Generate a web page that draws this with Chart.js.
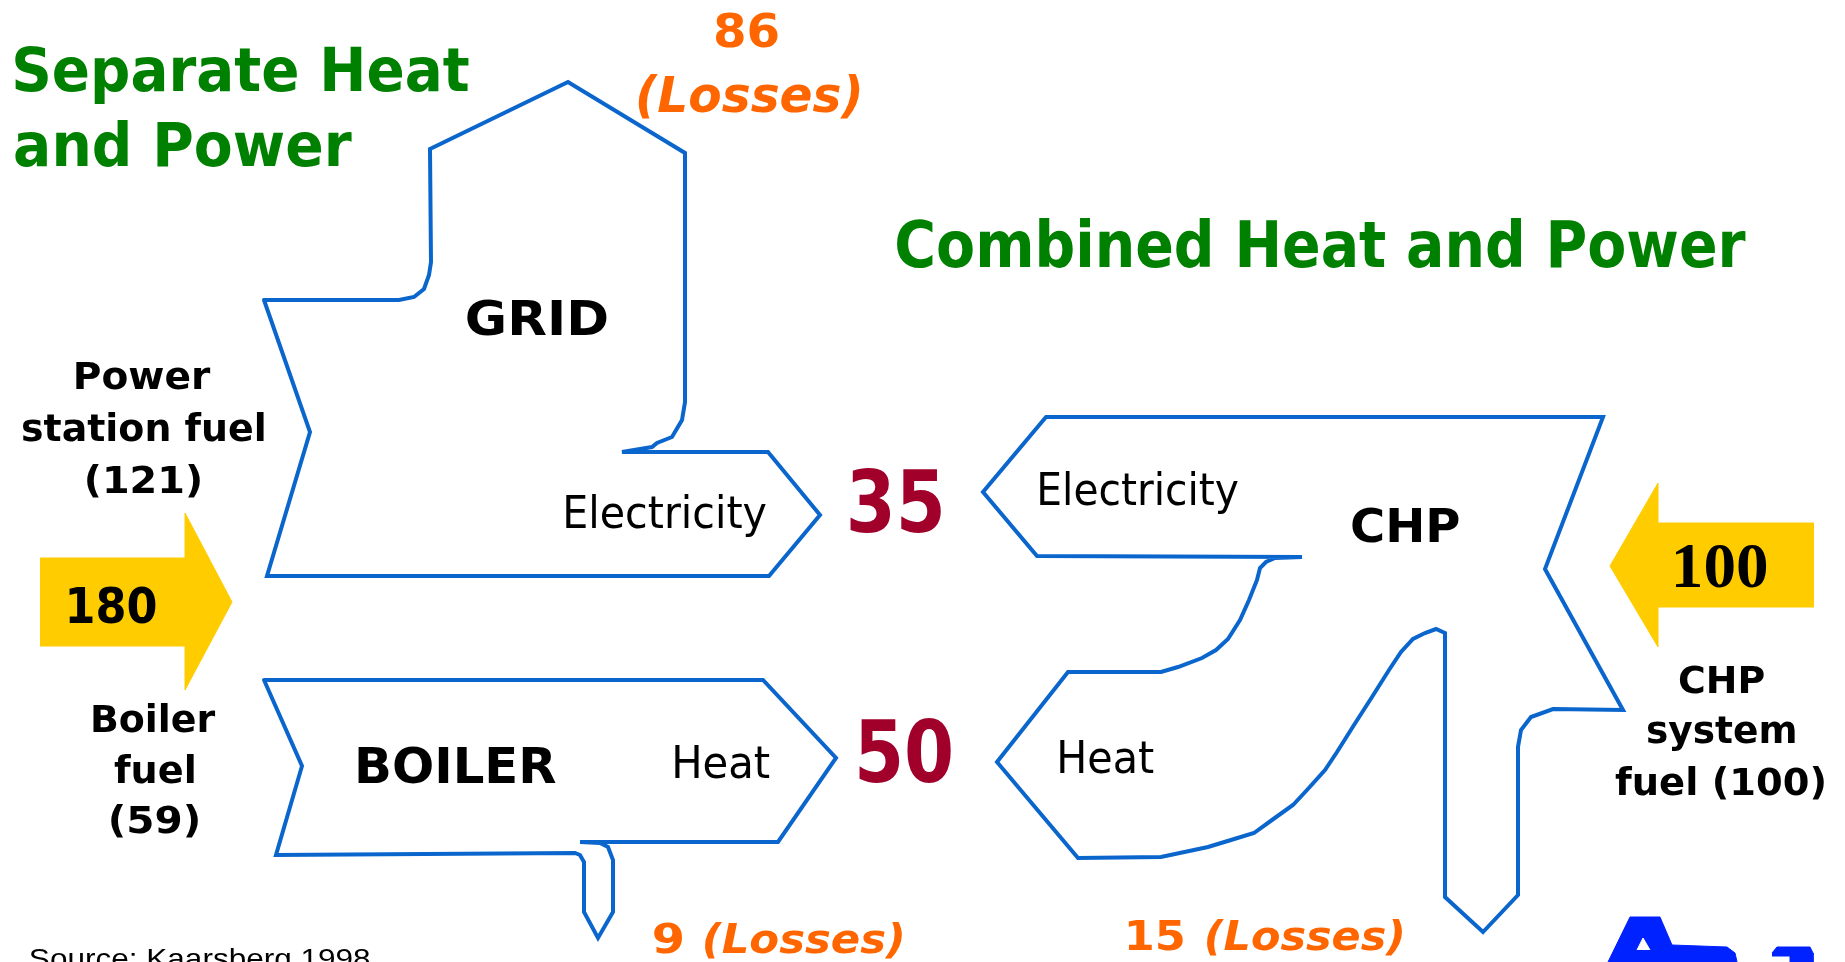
<!DOCTYPE html>
<html>
<head>
<meta charset="utf-8">
<title>Separate vs Combined Heat and Power</title>
<script src="https://cdn.jsdelivr.net/npm/chart.js@4.4.1/dist/chart.umd.min.js"></script>
<style>
    html, body { margin: 0; padding: 0; background: #fff; overflow: hidden; }
    #wrap { width: 1845px; height: 962px; position: relative; }
</style>
</head>
<body>
<div id="wrap"><canvas id="flowChart"></canvas></div>
<script>
// Energy flows (units of fuel)
const separateFuel = 180;
const powerStationFuel = 121;
const boilerFuel = 59;
const gridLosses = 86;
const electricityOut = 35;
const heatOut = 50;
const boilerLosses = 9;
const chpFuel = 100;
const chpLosses = 15;

// Outlines, in picture units (x to the right, y downwards)
const gridOutline = [[264,300],[399,300],[414,297],[424,289],[429,275],[431,262],[430,149],[568,82],[685,153],
    [685,402],[682,420],[672,437],[657,443],[652,447],[622,452],[768,452],[820,515],[769,576],[267,576],[310,432],[264,300]];
const boilerOutline = [[264,680],[763,680],[836,758],[778,842],[580,842],[600,843],[608,847],[613,860],[613,912],
    [598,938],[584,912],[584,862],[580,855],[575,853],[276,855],[302,766],[264,680]];
const chpOutline = [[1046,417],[1603,417],[1545,569],[1623,710],[1553,709],[1531,717],[1521,730],[1518,747],[1518,895],
    [1483,932],[1445,897],[1445,633],[1436,629],[1425,633],[1413,639],[1401,652],[1389,670],[1372,697],[1354,725],
    [1337,752],[1325,770],[1307,790],[1293,805],[1272,820],[1254,833],[1231,840],[1208,847],[1161,857],[1078,858],
    [997,762],[1068,672],[1161,672],[1178,667],[1202,658],[1216,650],[1228,639],[1240,620],[1249,600],[1257,580],
    [1260,568],[1266,562],[1275,558],[1302,557],[1037,556],[983,492],[1046,417]];
const fuelArrowLeft = [[40,558],[185,558],[185,513],[232,602],[185,690],[185,646],[40,646]];
const fuelArrowRight = [[1814,523],[1658,523],[1658,483],[1610,566],[1658,647],[1658,607],[1814,607]];
const logoA = [[1608,962],[1630,917],[1660,917],[1672,945],[1727,947],[1735,953],[1737,962]];
const logoAHole = [[1637,950],[1643,938],[1650,950]];
const logoB = [[1772,953],[1777,947],[1810,947],[1813,953],[1813,962],[1790,962],[1790,956],[1772,956]];

const green = '#008000';
const orange = '#FF6600';
const darkRed = '#A0002A';
const blue = '#0A66CC';
const sans = '"DejaVu Sans"';

// Text: ink spans from x0 to x1, sitting on baseline y
const labels = [
    { text: 'Separate Heat', x0: 15, x1: 469, y: 91, font: `bold 60px ${sans}`, color: green },
    { text: 'and Power', x0: 15, x1: 352, y: 166, font: `bold 60px ${sans}`, color: green },
    { text: 'Combined Heat and Power', x0: 897, x1: 1746, y: 267, font: `bold 64px ${sans}`, color: green },
    { text: String(gridLosses), x0: 715, x1: 778, y: 47, font: `bold 46px ${sans}`, color: orange },
    { text: '(Losses)', x0: 638, x1: 860, y: 112, font: `italic bold 50px ${sans}`, color: orange },
    { text: 'GRID', x0: 467, x1: 607, y: 335, font: `bold 48px ${sans}`, color: '#000' },
    { text: 'Power', x0: 76, x1: 211, y: 389, font: `bold 37px ${sans}`, color: '#000' },
    { text: 'station fuel', x0: 22, x1: 264, y: 441, font: `bold 37px ${sans}`, color: '#000' },
    { text: `(${powerStationFuel})`, x0: 87, x1: 200, y: 493, font: `bold 37px ${sans}`, color: '#000' },
    { text: 'Electricity', x0: 566, x1: 766, y: 528, font: `44px ${sans}`, color: '#000' },
    { text: String(electricityOut), x0: 850, x1: 941, y: 532, font: `bold 86px ${sans}`, color: darkRed },
    { text: String(separateFuel), x0: 69, x1: 156, y: 623, font: `bold 50px ${sans}`, color: '#000' },
    { text: 'Boiler', x0: 93, x1: 216, y: 732, font: `bold 37px ${sans}`, color: '#000' },
    { text: 'fuel', x0: 114, x1: 194, y: 783, font: `bold 37px ${sans}`, color: '#000' },
    { text: `(${boilerFuel})`, x0: 111, x1: 198, y: 833, font: `bold 37px ${sans}`, color: '#000' },
    { text: 'BOILER', x0: 358, x1: 556, y: 783, font: `bold 50px ${sans}`, color: '#000' },
    { text: 'Heat', x0: 675, x1: 770, y: 778, font: `44px ${sans}`, color: '#000' },
    { text: String(heatOut), x0: 859, x1: 951, y: 782, font: `bold 86px ${sans}`, color: darkRed },
    { text: String(boilerLosses), x0: 654, x1: 682, y: 953, font: `bold 41px ${sans}`, color: orange },
    { text: '(Losses)', x0: 705, x1: 902, y: 953, font: `italic bold 41px ${sans}`, color: orange },
    { text: 'Electricity', x0: 1040, x1: 1238, y: 505, font: `44px ${sans}`, color: '#000' },
    { text: 'CHP', x0: 1352, x1: 1459, y: 542, font: `bold 47px ${sans}`, color: '#000' },
    { text: String(chpFuel), x0: 1676, x1: 1767, y: 587, font: 'bold 63px "Liberation Serif"', color: '#000' },
    { text: 'CHP', x0: 1679, x1: 1764, y: 693, font: `bold 37px ${sans}`, color: '#000' },
    { text: 'system', x0: 1647, x1: 1795, y: 743, font: `bold 37px ${sans}`, color: '#000' },
    { text: `fuel (${chpFuel})`, x0: 1615, x1: 1824, y: 795, font: `bold 37px ${sans}`, color: '#000' },
    { text: 'Heat', x0: 1060, x1: 1154, y: 773, font: `44px ${sans}`, color: '#000' },
    { text: String(chpLosses), x0: 1128, x1: 1183, y: 950, font: `bold 41px ${sans}`, color: orange },
    { text: '(Losses)', x0: 1207, x1: 1402, y: 950, font: `italic bold 41px ${sans}`, color: orange },
    { text: 'Source: Kaarsberg 1998', x0: 30, x1: 370, y: 968, font: '28px "Liberation Sans"', color: '#000' }
];

const toXY = pts => pts.map(([x, y]) => ({ x, y }));

function outline(pts) {
    return {
        data: toXY(pts), showLine: true, fill: false, tension: 0,
        borderColor: blue, borderWidth: 4, borderJoinStyle: 'miter', borderCapStyle: 'round',
        pointRadius: 0, pointHoverRadius: 0
    };
}

function filled(pts, color) {
    return {
        data: toXY(pts), showLine: true, fill: 'shape', tension: 0,
        backgroundColor: color, borderColor: color, borderWidth: 1,
        pointRadius: 0, pointHoverRadius: 0
    };
}

const labelPlugin = {
    id: 'diagramLabels',
    afterDatasetsDraw(chart) {
        const { ctx, scales: { x, y } } = chart;
        labels.forEach(l => {
            const px0 = x.getPixelForValue(l.x0);
            const px1 = x.getPixelForValue(l.x1);
            const py = y.getPixelForValue(l.y);
            ctx.save();
            ctx.font = l.font;
            ctx.fillStyle = l.color;
            ctx.textBaseline = 'alphabetic';
            ctx.textAlign = 'left';
            const m = ctx.measureText(l.text);
            const inkW = m.actualBoundingBoxRight + m.actualBoundingBoxLeft;
            const s = (px1 - px0) / inkW;
            ctx.translate(px0 + m.actualBoundingBoxLeft * s, py);
            ctx.scale(s, 1);
            ctx.fillText(l.text, 0, 0);
            ctx.restore();
        });
    }
};

document.addEventListener('DOMContentLoaded', () => {
    const ctx = document.getElementById('flowChart').getContext('2d');
    new Chart(ctx, {
        type: 'scatter',
        data: {
            datasets: [
                filled(logoAHole, '#FFFFFF'),
                filled(logoA, '#0022FF'),
                filled(logoB, '#0022FF'),
                filled(fuelArrowLeft, '#FFCC00'),
                filled(fuelArrowRight, '#FFCC00'),
                outline(gridOutline),
                outline(boilerOutline),
                outline(chpOutline)
            ]
        },
        options: {
            responsive: true,
            maintainAspectRatio: false,
            animation: false,
            events: [],
            layout: { padding: 0, autoPadding: false },
            plugins: { legend: { display: false }, tooltip: { enabled: false } },
            scales: {
                x: { type: 'linear', display: false, min: 0, max: 1845 },
                y: { type: 'linear', display: false, min: 0, max: 962, reverse: true }
            }
        },
        plugins: [labelPlugin]
    });
});
</script>
</body>
</html>
